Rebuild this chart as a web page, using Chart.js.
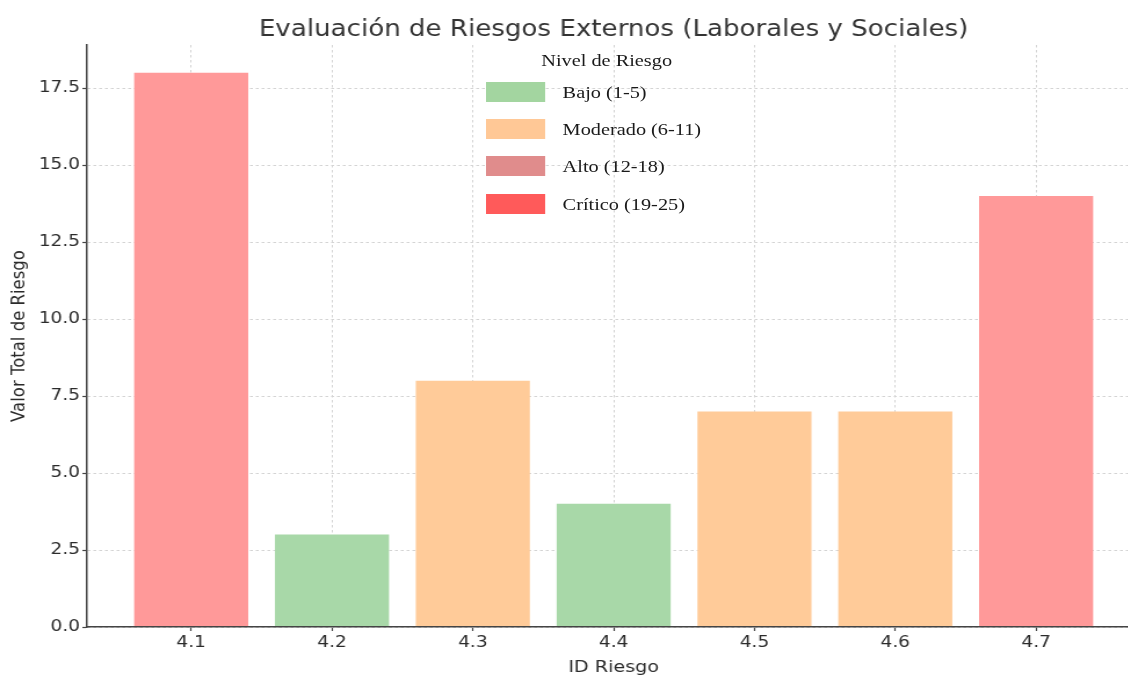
<!DOCTYPE html>
<html lang="es">
<head>
<meta charset="utf-8">
<title>Evaluación de Riesgos Externos (Laborales y Sociales)</title>
<script src="https://cdn.jsdelivr.net/npm/chart.js@4/dist/chart.umd.min.js"></script>
<style>
  html, body { margin: 0; padding: 0; background: #fff; overflow: hidden; width: 1128px; height: 676px; }
  #stage { position: absolute; left: 0; top: 0; width: 983px; height: 676px; transform-origin: 0 0; transform: scaleX(1.16); }
  #chart { display: block; }
  #legend { position: absolute; left: 0; top: 0; width: 983px; height: 676px; pointer-events: none;
            font-family: 'Liberation Serif', 'Times New Roman', serif; font-size: 17.5px; color: #1a1a1a; }
  .lg-title { position: absolute; left: 419px; width: 208px; height: 24px; line-height: 24px; text-align: center; white-space: nowrap; }
  .lg-row { position: absolute; left: 419px; height: 24px; line-height: 24px; white-space: nowrap; }
  .lg-swatch { position: absolute; left: 0; top: 2px; width: 51px; height: 20px; }
  .lg-text { position: absolute; left: 66px; top: 0; }
</style>
</head>
<body>
<div id="stage">
  <canvas id="chart" width="983" height="676"></canvas>
  <div id="legend"></div>
</div>
<script>
// Risk register: ID, total score and assigned level
const riskIds = ['4.1', '4.2', '4.3', '4.4', '4.5', '4.6', '4.7'];
const riskTotals = [18, 3, 8, 4, 7, 7, 14];
const riskLevels = ['Alto', 'Bajo', 'Moderado', 'Bajo', 'Moderado', 'Moderado', 'Alto'];

// Risk levels shown in the legend
const levelKeys = ['Bajo', 'Moderado', 'Alto', 'Crítico'];
const levelLabels = ['Bajo (1-5)', 'Moderado (6-11)', 'Alto (12-18)', 'Crítico (19-25)'];

// Y axis tick values
const yTickValues = [0, 2.5, 5, 7.5, 10, 12.5, 15, 17.5];

// Colours per level (bar fill and legend swatch)
const barFill = { 'Bajo': '#a8d8a8', 'Moderado': '#ffcb99', 'Alto': '#ff9999', 'Crítico': '#ff5a5a' };
const swatchFill = { 'Bajo': '#a3d5a0', 'Moderado': '#ffc896', 'Alto': '#e08c8c', 'Crítico': '#ff5a5a' };

const FONT = 'DejaVu Sans';
const TEXT = '#2b2b2b';

// One dataset per level; each bar sits at its own index on the x axis
const datasets = levelKeys.map((key, k) => ({
  label: levelLabels[k],
  data: riskIds
    .map((id, i) => ({ x: i, y: riskTotals[i] }))
    .filter((p, i) => riskLevels[i] === key),
  backgroundColor: barFill[key],
  legendSwatch: swatchFill[key],
  borderWidth: 0,
  grouped: false,
  barPercentage: 0.81,
  categoryPercentage: 1
}));

const yMax = Math.max(...riskTotals) * 1.05;

const chart = new Chart(document.getElementById('chart'), {
  type: 'bar',
  data: { datasets },
  options: {
    responsive: false,
    animation: false,
    devicePixelRatio: 1,
    layout: { padding: 0 },
    plugins: {
      legend: { display: false },
      tooltip: { enabled: false },
      title: {
        display: true,
        text: 'Evaluación de Riesgos Externos (Laborales y Sociales)',
        fullSize: false,
        color: '#333',
        font: { family: FONT, size: 22.5, weight: 'normal' },
        padding: { top: 16.5, bottom: 1.5 }
      }
    },
    scales: {
      x: {
        type: 'linear',
        min: -0.74,
        max: 6.74,
        offset: false,
        afterBuildTicks: (scale) => { scale.ticks = riskIds.map((_, i) => ({ value: i })); },
        afterFit: (scale) => { scale.height = 49; },
        ticks: {
          autoSkip: false,
          maxRotation: 0,
          padding: 2,
          color: TEXT,
          font: { family: FONT, size: 16 },
          callback: (value) => riskIds[value]
        },
        grid: { offset: false, color: '#d4d4d4', lineWidth: 1, tickLength: 4, tickColor: '#444', tickWidth: 1.2 },
        border: { display: true, color: '#444', width: 1.5, dash: [2.5, 2.5], z: 1 },
        title: {
          display: true,
          text: 'ID Riesgo',
          color: TEXT,
          font: { family: FONT, size: 16.5 },
          padding: { top: 0, bottom: -2 }
        }
      },
      y: {
        min: 0,
        max: yMax,
        afterBuildTicks: (scale) => { scale.ticks = yTickValues.map(v => ({ value: v })); },
        afterFit: (scale) => { scale.width = 75; },
        ticks: {
          padding: 2,
          color: TEXT,
          font: { family: FONT, size: 16 },
          callback: (value) => Number(value).toFixed(1)
        },
        grid: { color: '#d4d4d4', lineWidth: 1, tickLength: 4, tickColor: '#444', tickWidth: 1.2 },
        border: { display: true, color: '#444', width: 1.5, dash: [2.5, 2.5], z: 1 },
        title: {
          display: true,
          text: 'Valor Total de Riesgo',
          color: TEXT,
          font: { family: FONT, size: 16.5 },
          padding: { top: 7, bottom: 0 }
        }
      }
    }
  }
});

// Legend built from the chart's datasets, placed inside the plot area
const legendEl = document.getElementById('legend');
const legendTitle = document.createElement('div');
legendTitle.className = 'lg-title';
legendTitle.style.top = (60 - 12) + 'px';
legendTitle.textContent = 'Nivel de Riesgo';
legendEl.appendChild(legendTitle);

chart.data.datasets.forEach((ds, i) => {
  const row = document.createElement('div');
  row.className = 'lg-row';
  row.style.top = (91.7 + i * 37.3 - 12) + 'px';
  const sw = document.createElement('span');
  sw.className = 'lg-swatch';
  sw.style.background = ds.legendSwatch;
  const tx = document.createElement('span');
  tx.className = 'lg-text';
  tx.textContent = ds.label;
  row.appendChild(sw);
  row.appendChild(tx);
  legendEl.appendChild(row);
});
</script>
</body>
</html>
